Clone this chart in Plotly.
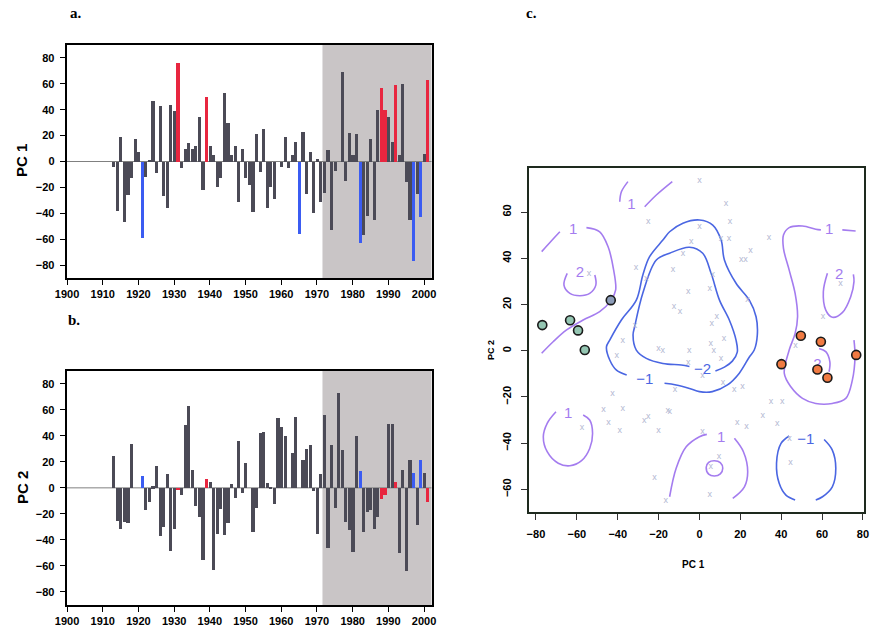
import plotly.graph_objects as go

# ---- panels a / b : yearly PC scores ----
years = list(range(1913, 2002))
pc1 = [-4, -38, 19, -47, -26, -13, 17, 7, -59, -12,
       1, 47, -9, 43, -27, -36, 44, 39, 76, -5,
       10, 14, 10, 12, 34, -22, 50, 12, 5, -20,
       -13, 53, 30, 5, 12, -31, 10, -13, -18, -39,
       21, -8, 25, -36, -20, -29, 0, -4, 19, -5,
       5, 15, -56, 23, -25, 7, -40, 2, -31, -24,
       9, -53, -7, 0, 69, -15, 22, 5, 21, -63,
       -57, -42, 17, -45, 40, 57, 40, 34, 15, 59,
       5, 60, -16, -45, -77, -25, -43, 6, 63]
pc2 = [25, -25, -31, -26, -27, 34, 0, 0, 9.5, -17,
       -10.5, 1.5, 17, -37, -30, 10.5, -48, -31.5, -1.5, -5,
       48.5, 63, 14, -14, -22, -55, 7, 5, -63, -35,
       -16, -36, -27, 3, -7.5, 36, -4, 19, 0, -34,
       -15.5, 42, 43, 4, 1, -12, 54, 47, 40, 0,
       27, 55, 0, 22, 30, 33, -2, -35, 10.5, 56,
       -46, 33.5, -15, 73, 29, -26, -32, -49, 40, 13,
       -34, -18, -17, -31, -22, -8, -5, 49, 49, 4.5,
       -49.5, 14, -64, 21.5, 12, -28, 22, 12, -11]
red_years = [1931, 1939, 1988, 1989, 1992, 2001]
blue_years = [1921, 1965, 1982, 1997, 1999]
shade_start = 1971.55

# ---- panel c : PC1 / PC2 space ----
teal_x = [-76.9, -63.3, -59.4, -56.1]
teal_y = [11.1, 13.2, 8.8, 0.3]
slate_x = [-43.4]
slate_y = [21.9]
orange_x = [40.1, 49.6, 59.4, 57.7, 62.6, 76.7]
orange_y = [-5.8, 6.5, 3.9, -8.1, -11.7, -1.8]

cross_x = [-25, -54, -31, -26, -13, -8, -12.5, -9.5, -5.5, -31.5, -37.5, -20, -18, -40.5, -5,
           0, 13, 15, 0, 10.5, 14.5, -4, 25, 20.5, 22.5, 34, 6.5, 5, 23.5, 6, 8.5, 12, 5.5, 7,
           69, 60.5, 47, 10.5, -5.5, 1.5, 11.5, 17, 21, -12, 35, 40.5, 31, 18.5, 23, 38, 1.5,
           44, 9.5, 5.5, 44.5, 5, -14.5, -42.5, -47, -37.5, -44.5, -25, -27, -15.5, -39,
           -57.5, -20, -22, -16.5]
cross_y = [56, 33.5, 36, 31, 35, 42, 19, 17, 25.5, 11, 4.5, 1, 0, -2, 0,
           73.5, 63.5, 56, 53.5, 48.5, 48.5, 47, 43.5, 39.5, 39.5, 49, 33, 27, 22, 11.5, 14.5,
           5, 3, 0, 29, 14.5, 2, -3.5, -5, -11, -14, -17, -15.5, -17, -22, -22, -28, -31, -33,
           -31.5, -35, -38, -46, -50, -48.5, -62.5, -26.5, -18.5, -25.5, -25, -31, -28.5, -30.5,
           -26, -34.5, -33.5, -34.5, -55, -65]

# contour paths, positive levels
pos_paths = [
    [(-77.2, 42.9), (-72.5, 47.5), (-68.3, 51.5)],
    [(-55.3, 53.3), (-48.8, 51.5), (-44.7, 45), (-42, 35), (-41, 26.3), (-43.1, 22),
     (-48.8, 16.9), (-56.9, 13.3), (-65, 9), (-71.6, 3.9), (-77.2, -1.1)],
    [(-64.7, 33.5), (-66.3, 28.4), (-63.4, 24.8), (-58.5, 23.8), (-53.7, 24.8),
     (-50.7, 28.4), (-51.2, 32.8)],
    [(-35, 73.2), (-38.2, 68.8), (-39, 64.5)],
    [(-26.8, 62.3), (-21.1, 67.4), (-13.3, 73.2)],
    [(59.4, 52.3), (56.9, 52.6), (50.4, 54), (43.9, 53.3), (41.1, 50.1), (41.1, 44.3),
     (43.9, 34.9), (46.8, 24.8), (48, 14.7), (46.8, 7.5), (43.9, 0.3), (41.5, -9.8),
     (44.7, -15.6), (50.4, -20.6), (56.9, -22.8), (65, -22.8), (71.6, -20.6),
     (74.8, -12.7), (76.1, -2.6), (75.6, 4.6)],
    [(69.9, 52.3), (76.4, 51.8)],
    [(62.6, 33.5), (60.6, 25.5), (61.8, 17.6), (65, 14.5), (69.9, 16.5), (74, 23.4),
     (75.6, 29.9), (75.3, 33.1)],
    [(58.5, 1), (61.8, -0.4), (63.8, -4.8), (63.4, -9.1)],
    [(-70.2, -26.4), (-74.5, -31.4), (-76.4, -37.2), (-74.5, -43.7), (-69.1, -48.7),
     (-63.4, -49.8), (-57.7, -47.6), (-53.7, -42.3), (-52.3, -35.8), (-53.7, -30),
     (-56.9, -27.8)],
    [(-14.6, -63.2), (-11.4, -50.9), (-6.5, -41.6), (0, -37.2), (3.6, -36.2)],
    [(17.1, -37.9), (21.5, -43.7), (23.6, -52.4), (22, -58.9), (16.3, -63.9)],
    [(3.3, -50.4), (4.5, -48.3), (7.3, -47.6), (10.2, -48.4), (11.4, -50.9),
     (10.2, -53.3), (7.3, -54.2), (4.5, -53.4), (3.3, -50.4)],
]
# negative levels
neg_paths = [
    [(-17.1, -14.1), (-11.4, -14.8), (-4.9, -16.3), (0, -17.7), (6.3, -17.7), (13.7, -14.8),
     (19.5, -9.7), (24.4, -2.7), (26.8, 0.3), (28.3, 6.8), (27.7, 14.7), (24.4, 21.9),
     (17.9, 29.2), (12.2, 39.3), (10.6, 47.9), (6.5, 54.4), (0, 56.6), (-8.1, 55.2),
     (-14.6, 51.5), (-17.9, 47.9), (-24.4, 40.7), (-27.7, 32.8), (-30.9, 21.9),
     (-38.2, 13.3), (-43.9, 4.6), (-45.5, 1.7), (-43.9, -4), (-40.6, -8.4), (-35.6, -10.5)],
    [(7.8, -8.8), (12.2, -7.1), (16.1, -4.5), (18.5, -0.6), (17.9, 4.6), (14.6, 13.3),
     (9.8, 21.9), (5.7, 33.5), (1.6, 42.2), (-4.9, 44.8), (-14.6, 42.2), (-21.1, 39.3),
     (-27.7, 25), (-31.7, 10.4), (-32.5, 6.8), (-30.9, 0.3), (-26, -3.3), (-17.9, -5.5),
     (-8.9, -6.2), (-4.9, -6.8)],
    [(43.9, -36.9), (39.9, -40.1), (37.7, -48.7), (39, -57.4), (42.3, -62.5), (46.8, -64.6)],
    [(61, -38.4), (65, -43), (66.7, -50.9), (65, -58.9), (60.2, -63.2), (56.9, -64.6)],
]
pos_labels = [("1", -61.8, 52.2), ("2", -58.5, 33.5), ("1", -33.3, 63.1), ("1", 63.4, 52.3),
              ("2", 68.3, 32.8), ("2", 57.7, -6.2), ("1", -64.2, -27.4), ("1", 10.6, -37.9)]
neg_labels = [("−1", -26.8, -12.7), ("−2", 1.5, -8.6), ("−1", 52, -38.7)]

W, H = 871, 626
DARK, RED, BLUE = "#4b4a56", "#e8263f", "#3b5cf2"
PURPLE, CBLUE = "#a47cef", "#4a66e2"


def px_x(p):
    return p / W


def px_y(p):
    return 1 - p / H


def bar_colors():
    out = []
    for y in years:
        if y in red_years:
            out.append(RED)
        elif y in blue_years:
            out.append(BLUE)
        else:
            out.append(DARK)
    return out


fig = go.Figure()
cols = bar_colors()
fig.add_trace(go.Bar(x=years, y=pc1, marker=dict(color=cols, line_width=0), width=0.88,
                     xaxis="x", yaxis="y", showlegend=False))
fig.add_trace(go.Bar(x=years, y=pc2, marker=dict(color=cols, line_width=0), width=0.88,
                     xaxis="x2", yaxis="y2", showlegend=False))

for path in pos_paths:
    fig.add_trace(go.Scatter(x=[p[0] for p in path], y=[p[1] for p in path], mode="lines",
                             line=dict(color=PURPLE, width=1.6, shape="spline", smoothing=1),
                             xaxis="x3", yaxis="y3", showlegend=False, hoverinfo="skip"))
for path in neg_paths:
    fig.add_trace(go.Scatter(x=[p[0] for p in path], y=[p[1] for p in path], mode="lines",
                             line=dict(color=CBLUE, width=1.6, shape="spline", smoothing=1),
                             xaxis="x3", yaxis="y3", showlegend=False, hoverinfo="skip"))

fig.add_trace(go.Scatter(x=cross_x, y=cross_y, mode="text", text=["x"] * len(cross_x),
                         textfont=dict(family="Liberation Sans", size=9, color="#b3b8d2"),
                         xaxis="x3", yaxis="y3", showlegend=False))
fig.add_trace(go.Scatter(x=[l[1] for l in pos_labels], y=[l[2] for l in pos_labels], mode="text",
                         text=[l[0] for l in pos_labels],
                         textfont=dict(family="Liberation Sans", size=15, color=PURPLE),
                         xaxis="x3", yaxis="y3", showlegend=False))
fig.add_trace(go.Scatter(x=[l[1] for l in neg_labels], y=[l[2] for l in neg_labels], mode="text",
                         text=[l[0] for l in neg_labels],
                         textfont=dict(family="Liberation Sans", size=15, color=CBLUE),
                         xaxis="x3", yaxis="y3", showlegend=False))

for xs, ys, fill in [(teal_x, teal_y, "#94c6b2"), (slate_x, slate_y, "#8c9cb8"),
                     (orange_x, orange_y, "#f07a42")]:
    fig.add_trace(go.Scatter(x=xs, y=ys, mode="markers",
                             marker=dict(size=9, color=fill, line=dict(color="#1a1a1a", width=1.6)),
                             xaxis="x3", yaxis="y3", showlegend=False))

tickfont = dict(family="Liberation Sans", size=11, color="black", weight="bold")
year_axis = dict(range=[1899.9, 2002.15], tickvals=list(range(1900, 2001, 10)), ticks="outside",
                 ticklen=5, tickwidth=1, tickcolor="black", tickfont=tickfont, showgrid=False,
                 zeroline=False, showline=True, mirror=True, linecolor="black", linewidth=2,
                 automargin=False)
pc_axis = dict(range=[-90, 90], tickvals=list(range(-80, 81, 20)), ticks="outside", ticklen=5,
               tickwidth=1, tickcolor="black", tickfont=tickfont, showgrid=False, zeroline=False,
               showline=True, mirror=True, linecolor="black", linewidth=2, automargin=False,
               ticklabelstandoff=3)

fig.update_layout(
    width=W, height=H, margin=dict(l=0, r=0, t=0, b=0),
    paper_bgcolor="white", plot_bgcolor="white", bargap=0,
    xaxis=dict(year_axis, domain=[px_x(66.7), px_x(431.7)], anchor="y"),
    yaxis=dict(pc_axis, domain=[px_y(278), px_y(45)], anchor="x"),
    xaxis2=dict(year_axis, domain=[px_x(66.7), px_x(431.7)], anchor="y2"),
    yaxis2=dict(pc_axis, domain=[px_y(605), px_y(370.7)], anchor="x2"),
    xaxis3=dict(range=[-83.4, 80.5], tickvals=list(range(-80, 81, 20)), ticks="outside",
                ticklen=6, tickcolor="#333", tickfont=tickfont, ticklabelstandoff=5,
                showgrid=False, zeroline=False, showline=True, mirror=True, automargin=False,
                linecolor="#1e2a1e", linewidth=1.5, domain=[px_x(529), px_x(864)], anchor="y3"),
    yaxis3=dict(range=[-69.8, 79.1], tickvals=list(range(-60, 61, 20)), ticks="outside",
                ticklen=6, tickcolor="#333", tickfont=tickfont, tickangle=-90, ticklabelstandoff=6,
                showgrid=False, zeroline=False, showline=True, mirror=True, automargin=False,
                linecolor="#1e2a1e", linewidth=1.5, domain=[px_y(512), px_y(168)], anchor="x3"),
)

shapes = []
for xa, ya in [("x", "y"), ("x2", "y2")]:
    shapes.append(dict(type="rect", xref=xa, yref=ya + " domain", x0=shade_start, x1=2002.15,
                       y0=0, y1=1, fillcolor="#c9c5c6", line_width=0, layer="below"))
    shapes.append(dict(type="line", xref=xa, yref=ya, x0=1899.9, x1=2002.15, y0=0, y1=0,
                       line=dict(color="#808080", width=1), layer="below"))
fig.update_layout(shapes=shapes)

notes = [
    dict(text="a.", x=px_x(76), y=px_y(13)),
    dict(text="b.", x=px_x(74), y=px_y(320)),
    dict(text="c.", x=px_x(531), y=px_y(13)),
]
for n in notes:
    fig.add_annotation(text=n["text"], x=n["x"], y=n["y"], xref="paper", yref="paper",
                       showarrow=False, xanchor="center", yanchor="middle",
                       font=dict(family="Liberation Serif", size=15, color="black", weight="bold"))
for txt, x, y in [("PC 1", 22, 161), ("PC 2", 22, 488)]:
    fig.add_annotation(text=txt, x=px_x(x), y=px_y(y), xref="paper", yref="paper", showarrow=False,
                       textangle=-90, xanchor="center", yanchor="middle",
                       font=dict(family="Liberation Sans", size=15, color="black", weight="bold"))
fig.add_annotation(text="PC 2", x=px_x(491), y=px_y(350), xref="paper", yref="paper",
                   showarrow=False, textangle=-90, xanchor="center", yanchor="middle",
                   font=dict(family="Liberation Sans", size=9, color="black", weight="bold"))
fig.add_annotation(text="PC 1", x=px_x(693), y=px_y(564), xref="paper", yref="paper",
                   showarrow=False, xanchor="center", yanchor="middle",
                   font=dict(family="Liberation Sans", size=10, color="black", weight="bold"))

# drop the default 8px page margin so the figure sits at the window's origin
fig.write_html("out.html", config={"displayModeBar": False},
               post_script="document.body.style.margin='0';"
                           "document.body.style.overflow='hidden';")
